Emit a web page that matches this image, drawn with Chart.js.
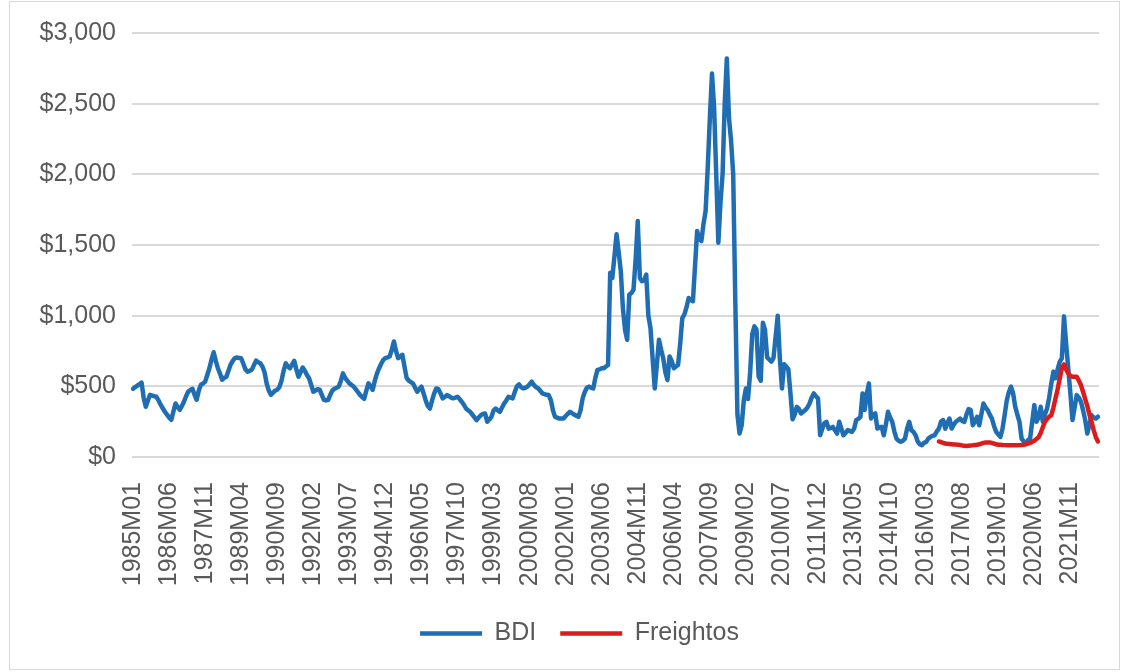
<!DOCTYPE html>
<html>
<head>
<meta charset="utf-8">
<script src="https://cdn.jsdelivr.net/npm/chart.js@4.4.1/dist/chart.umd.min.js"></script>
<style>
  html, body { margin: 0; padding: 0; background: #fff; }
</style>
</head>
<body>
<canvas id="grafico" width="1123" height="672"></canvas>
<script>
// meses 1985M01 .. 2022M12
const meses = [];
for (let y = 1985; y <= 2022; y++) {
    for (let m = 1; m <= 12; m++) meses.push(y + 'M' + String(m).padStart(2, '0'));
}

const etiquetasEje = ['1985M01', '1986M06', '1987M11', '1989M04', '1990M09', '1992M02', '1993M07',
    '1994M12', '1996M05', '1997M10', '1999M03', '2000M08', '2002M01', '2003M06', '2004M11',
    '2006M04', '2007M09', '2009M02', '2010M07', '2011M12', '2013M05', '2014M10', '2016M03',
    '2017M08', '2019M01', '2020M06', '2021M11'];

const bdi = [
    483, 495, 505, 515, 526, 420, 355, 400, 440, 435, 430, 426,   // 1985
    400, 370, 345, 320, 300, 280, 263, 320, 379, 355, 334, 360,   // 1986
    391, 430, 462, 475, 483, 440, 405, 470, 512, 520, 533, 580,   // 1987
    628, 690, 741, 680, 628, 590, 547, 560, 568, 610, 654, 680,   // 1988
    700, 704, 700, 699, 660, 620, 604, 610, 618, 650, 682, 670,   // 1989
    663, 640, 600, 520, 470, 440, 455, 470, 476, 495, 540, 610,   // 1990
    663, 640, 628, 655, 680, 620, 568, 600, 633, 610, 580, 557,   // 1991
    510, 462, 470, 480, 476, 440, 405, 400, 405, 440, 470, 483,   // 1992
    490, 498, 540, 592, 560, 540, 521, 510, 498, 480, 460, 440,   // 1993
    425, 412, 470, 521, 500, 476, 540, 590, 628, 660, 687, 700,   // 1994
    705, 711, 760, 817, 750, 699, 710, 723, 640, 560, 540, 530,   // 1995
    521, 490, 462, 480, 498, 450, 400, 360, 343, 400, 450, 485,   // 1996
    480, 450, 415, 425, 438, 430, 420, 415, 420, 426, 410, 391,   // 1997
    370, 343, 330, 320, 300, 280, 261, 280, 296, 305, 308, 249,   // 1998
    265, 284, 330, 343, 330, 320, 350, 379, 400, 426, 420, 415,   // 1999
    460, 500, 514, 495, 485, 490, 498, 515, 533, 510, 495, 485,   // 2000
    470, 450, 445, 440, 438, 403, 330, 284, 278, 272, 272, 272,   // 2001
    290, 305, 320, 310, 301, 292, 284, 330, 415, 460, 490, 498,   // 2002
    490, 485, 560, 616, 620, 628, 628, 640, 651, 1303, 1267, 1420, // 2003
    1576, 1450, 1315, 1050, 900, 829, 1149, 1160, 1185, 1400, 1670, 1267, // 2004
    1244, 1250, 1291, 1000, 912, 700, 485, 650, 829, 760, 699, 600, // 2005
    545, 711, 680, 628, 640, 651, 800, 983, 1009, 1060, 1125, 1110, // 2006
    1102, 1350, 1599, 1540, 1528, 1650, 1741, 2049, 2400, 2713, 2476, 2000, // 2007
    1516, 1800, 2002, 2500, 2819, 2400, 2239, 2002, 1100, 300, 166, 225, // 2008
    400, 485, 410, 600, 870, 924, 900, 570, 540, 950, 900, 705,   // 2009
    690, 675, 700, 850, 1000, 700, 485, 657, 640, 622, 450, 267,  // 2010
    300, 355, 340, 308, 320, 332, 350, 379, 420, 450, 430, 415,   // 2011
    154, 200, 240, 249, 201, 205, 213, 190, 166, 249, 200, 154,   // 2012
    170, 190, 185, 178, 200, 261, 270, 284, 450, 332, 450, 521,   // 2013
    272, 300, 308, 201, 210, 213, 154, 230, 320, 280, 249, 180,   // 2014
    130, 115, 107, 115, 130, 200, 249, 190, 178, 154, 110, 90,    // 2015
    83, 100, 107, 130, 142, 150, 154, 180, 201, 250, 261, 201,    // 2016
    240, 272, 201, 230, 249, 260, 272, 255, 249, 300, 339, 332,   // 2017
    225, 250, 284, 225, 300, 379, 350, 332, 300, 272, 220, 178,   // 2018
    160, 142, 200, 296, 400, 460, 498, 450, 355, 300, 249, 130,   // 2019
    110, 95, 120, 130, 250, 367, 249, 280, 355, 249, 300, 343,    // 2020
    420, 520, 604, 557, 620, 675, 699, 995, 800, 628, 450, 261,   // 2021
    350, 438, 420, 391, 330, 261, 166, 230, 296, 280, 272, 285    // 2022
];

// Freightos arranca en 2016M09
const inicioFreightos = 380;
const freightosValores = [
    110, 105, 100, 95, 93, 92, 90, 88, 88, 87, 85, 82,
    80, 78, 80, 82, 83, 85, 87, 90, 95, 100, 102, 103,
    102, 100, 95, 90, 87, 86, 85, 84, 83, 83, 83, 83,
    83, 83, 84, 85, 87, 90, 95, 100, 107, 115, 128, 140,
    170, 210, 249, 270, 285, 296, 350, 415, 480, 557, 630, 655,
    620, 592, 575, 568, 568, 568, 540, 509, 460, 410, 360, 300,
    249, 190, 140, 110
];
const freightos = new Array(inicioFreightos).fill(null).concat(freightosValores);

const marco = {
    id: 'marco',
    beforeDraw(chart) {
        const ctx = chart.ctx;
        ctx.save();
        ctx.fillStyle = '#ffffff';
        ctx.fillRect(0, 0, chart.width, chart.height);
        ctx.strokeStyle = '#d9d9d9';
        ctx.lineWidth = 1;
        ctx.strokeRect(9.5, 1.5, 1110, 668);
        ctx.restore();
    }
};

// la leyenda del original esta algo mas a la derecha
const moverLeyenda = {
    id: 'moverLeyenda',
    afterLayout(chart) {
        chart.legend.left += 30;
        chart.legend.right += 30;
    }
};

Chart.defaults.font.family = '"Liberation Sans", Arial, sans-serif';
Chart.defaults.color = '#595959';

const ctx = document.getElementById('grafico').getContext('2d');
new Chart(ctx, {
    type: 'line',
    data: {
        labels: meses,
        datasets: [{
            label: 'BDI',
            data: bdi,
            borderColor: '#1f6eb4',
            backgroundColor: '#1f6eb4',
            borderWidth: 4.5,
            pointRadius: 0,
            borderJoinStyle: 'round',
            borderCapStyle: 'round',
            order: 1
        }, {
            label: 'Freightos',
            data: freightos,
            borderColor: '#dc1c1c',
            backgroundColor: '#dc1c1c',
            borderWidth: 4.5,
            pointRadius: 0,
            borderJoinStyle: 'round',
            borderCapStyle: 'round',
            order: 0
        }]
    },
    options: {
        responsive: false,
        animation: false,
        layout: { padding: { top: 33, right: 24, bottom: 16, left: 0 } },
        plugins: {
            legend: {
                position: 'bottom',
                labels: {
                    usePointStyle: true,
                    pointStyle: 'line',
                    pointStyleWidth: 62,
                    padding: 24,
                    font: { size: 25 },
                    sort: (a, b) => a.datasetIndex - b.datasetIndex
                }
            },
            tooltip: { enabled: false }
        },
        scales: {
            x: {
                offset: true,
                grid: { display: false },
                border: { display: false },
                ticks: {
                    autoSkip: false,
                    minRotation: 90,
                    maxRotation: 90,
                    padding: 17,
                    font: { size: 25 },
                    callback: function(value) {
                        const l = this.getLabelForValue(value);
                        return etiquetasEje.includes(l) ? l : '';
                    }
                },
                afterFit: function(scale) {
                    scale.height = 140;
                    scale.paddingLeft = 0;
                    scale.paddingRight = 0;
                }
            },
            y: {
                min: 0,
                max: 3000,
                grid: { color: '#d9d9d9', lineWidth: 2, drawTicks: false },
                border: { display: false },
                ticks: {
                    stepSize: 500,
                    padding: 16,
                    font: { size: 25 },
                    callback: v => '$' + v.toLocaleString('en-US')
                },
                afterFit: function(scale) { scale.width = 132; }
            }
        }
    },
    plugins: [marco, moverLeyenda]
});
</script>
</body>
</html>
